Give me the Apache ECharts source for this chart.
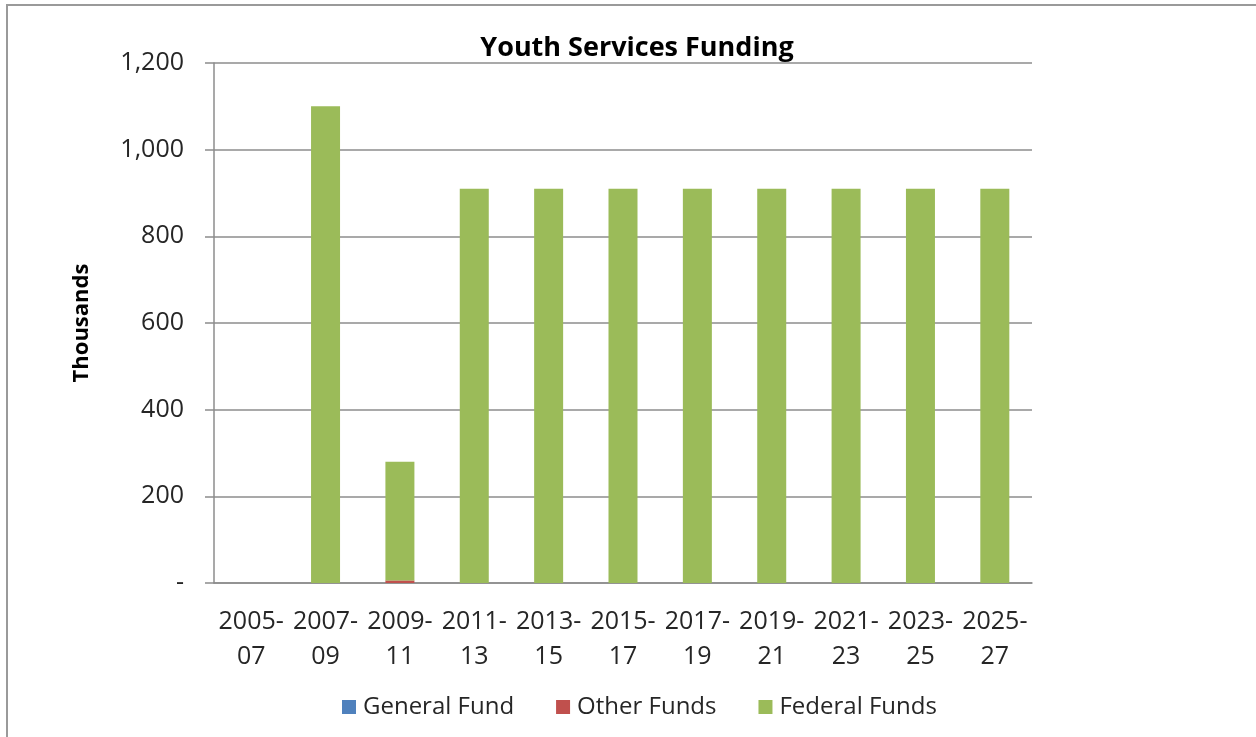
<!DOCTYPE html>
<html>
<head>
<meta charset="utf-8">
<script src="https://cdn.jsdelivr.net/npm/echarts@6/dist/echarts.min.js"></script>
<style>
  html, body { margin: 0; padding: 0; background: #ffffff; }
  #chart { width: 1256px; height: 737px; }
</style>
</head>
<body>
<div id="chart"></div>
<script>
// Biennium labels (two lines each)
const categories = ['2005-\n07', '2007-\n09', '2009-\n11', '2011-\n13', '2013-\n15', '2015-\n17',
                    '2017-\n19', '2019-\n21', '2021-\n23', '2023-\n25', '2025-\n27'];

// Funding by source, in thousands
const generalFund  = [0, 0, 0, 0, 0, 0, 0, 0, 0, 0, 0];
const otherFunds   = [0, 0, 6, 0, 0, 0, 0, 0, 0, 0, 0];
const federalFunds = [0, 1100, 274, 910, 910, 910, 910, 910, 910, 910, 910];

const seriesNames = ['General Fund', 'Other Funds', 'Federal Funds'];
const seriesColors = ['#4F81BD', '#C0504D', '#9BBB59'];

const FONT = '"Open Sans", "Noto Sans", sans-serif';
const TEXT = '#262626';
const GRID = '#8c8c8c';

const chart = echarts.init(document.getElementById('chart'), null, { renderer: 'canvas' });

const dataSets = [generalFund, otherFunds, federalFunds];

chart.setOption({
  animation: false,
  backgroundColor: '#ffffff',
  title: {
    text: 'Youth Services Funding',
    left: 632,
    textAlign: 'center',
    top: 30,
    textStyle: { fontFamily: FONT, fontSize: 27, fontWeight: 'bold', color: '#000000' }
  },
  graphic: [{
    type: 'polyline',
    shape: { points: [[7, 737], [7, 5], [1256, 5]] },
    style: { stroke: '#9a9a9a', lineWidth: 2, fill: null },
    silent: true
  }],
  legend: {
    data: seriesNames,
    left: 337,
    top: 690,
    itemWidth: 14,
    itemHeight: 14,
    itemGap: 42,
    icon: 'rect',
    textStyle: { fontFamily: FONT, fontSize: 24, color: TEXT, padding: [0, 0, 0, 2] }
  },
  grid: { left: 214, right: 224, top: 63, bottom: 154, containLabel: false },
  xAxis: {
    type: 'category',
    data: categories,
    axisLine: { show: true, lineStyle: { color: GRID, width: 1.5 } },
    axisTick: { show: false },
    axisLabel: {
      interval: 0,
      margin: 21,
      fontFamily: FONT,
      fontSize: 25,
      lineHeight: 35,
      color: TEXT
    }
  },
  yAxis: {
    type: 'value',
    min: 0,
    max: 1200,
    interval: 200,
    name: 'Thousands',
    nameLocation: 'middle',
    nameRotate: 90,
    nameGap: 121,
    nameTextStyle: { fontFamily: FONT, fontSize: 22, fontWeight: 'bold', color: '#000000' },
    axisLine: { show: true, lineStyle: { color: GRID, width: 1.5 } },
    axisTick: { show: true, length: 9, lineStyle: { color: GRID, width: 1.5 } },
    splitLine: { show: true, lineStyle: { color: GRID, width: 1.5 } },
    axisLabel: {
      margin: 30,
      fontFamily: FONT,
      fontSize: 25,
      color: TEXT,
      formatter: function (v) {
        return v === 0 ? '-' : v.toLocaleString('en-US');
      }
    }
  },
  series: seriesNames.map(function (name, i) {
    return {
      name: name,
      type: 'bar',
      stack: 'total',
      barWidth: 29,
      itemStyle: { color: seriesColors[i] },
      data: dataSets[i]
    };
  })
});
</script>
</body>
</html>
